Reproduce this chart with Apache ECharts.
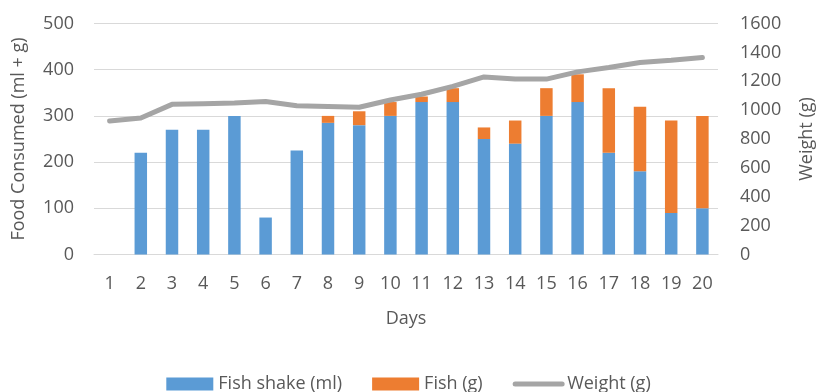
<!DOCTYPE html>
<html>
<head>
<meta charset="utf-8">
<script src="https://cdn.jsdelivr.net/npm/echarts@6/dist/echarts.min.js"></script>
<style>
  html, body { margin: 0; padding: 0; background: #fff; }
  #chart { width: 817px; height: 392px; }
</style>
</head>
<body>
<div id="chart"></div>
<script>
// data
const days = ['1', '2', '3', '4', '5', '6', '7', '8', '9', '10',
              '11', '12', '13', '14', '15', '16', '17', '18', '19', '20'];
const fishShake = [0, 220, 270, 270, 300, 80, 225, 285, 280, 300,
                   330, 330, 250, 240, 300, 330, 220, 180, 90, 100];
const fish = [0, 0, 0, 0, 0, 0, 0, 15, 30, 30,
              12, 30, 25, 50, 60, 60, 140, 140, 200, 200];
const weight = [925, 945, 1040, 1045, 1050, 1060, 1030, 1025, 1020, 1070,
                1110, 1165, 1230, 1215, 1215, 1265, 1295, 1330, 1345, 1365];

const textColor = '#595959';
const font = 'Open Sans';

const chart = echarts.init(document.getElementById('chart'), null, { renderer: 'canvas' });

chart.setOption({
  animation: false,
  textStyle: { fontFamily: font, color: textColor },
  grid: { left: 94, right: 99, top: 23.5, bottom: 137.5, outerBoundsMode: 'none', containLabel: false },
  legend: {
    top: 370,
    left: 'center',
    itemWidth: 47,
    itemHeight: 13,
    itemGap: 30,
    textStyle: { fontFamily: font, fontSize: 18, color: textColor },
    data: [
      { name: 'Fish shake (ml)', icon: 'rect' },
      { name: 'Fish (g)', icon: 'rect' },
      {
        name: 'Weight (g)',
        itemStyle: { opacity: 0 },
        lineStyle: { width: 5, color: '#A5A5A5', cap: 'round' }
      }
    ]
  },
  xAxis: {
    type: 'category',
    data: days,
    name: 'Days',
    nameLocation: 'middle',
    nameGap: 55,
    nameTextStyle: { fontSize: 18, color: textColor },
    axisLine: { lineStyle: { color: '#D9D9D9' } },
    axisTick: { show: false },
    axisLabel: { fontSize: 18, color: textColor, margin: 20 }
  },
  yAxis: [
    {
      type: 'value',
      min: 0, max: 500, interval: 100,
      name: 'Food Consumed (ml + g)',
      nameLocation: 'middle',
      nameGap: 66,
      nameTextStyle: { fontSize: 18, color: textColor },
      axisLine: { show: false },
      axisTick: { show: false },
      axisLabel: { fontSize: 18, color: textColor, margin: 20 },
      splitLine: { lineStyle: { color: '#D9D9D9', width: 1 } }
    },
    {
      type: 'value',
      min: 0, max: 1600, interval: 200,
      name: 'Weight (g)',
      nameLocation: 'middle',
      nameGap: 80,
      nameTextStyle: { fontSize: 18, color: textColor },
      axisLine: { show: false },
      axisTick: { show: false },
      axisLabel: { fontSize: 18, color: textColor, margin: 22, formatter: v => String(v) },
      splitLine: { show: false }
    }
  ],
  series: [
    {
      name: 'Fish shake (ml)',
      type: 'bar',
      stack: 'food',
      barWidth: '40%',
      itemStyle: { color: '#5B9BD5' },
      data: fishShake
    },
    {
      name: 'Fish (g)',
      type: 'bar',
      stack: 'food',
      barWidth: '40%',
      itemStyle: { color: '#ED7D31' },
      data: fish
    },
    {
      name: 'Weight (g)',
      type: 'line',
      yAxisIndex: 1,
      symbol: 'none',
      lineStyle: { color: '#A5A5A5', width: 5, cap: 'round', join: 'round' },
      itemStyle: { color: '#A5A5A5' },
      data: weight
    }
  ]
});
</script>
</body>
</html>
